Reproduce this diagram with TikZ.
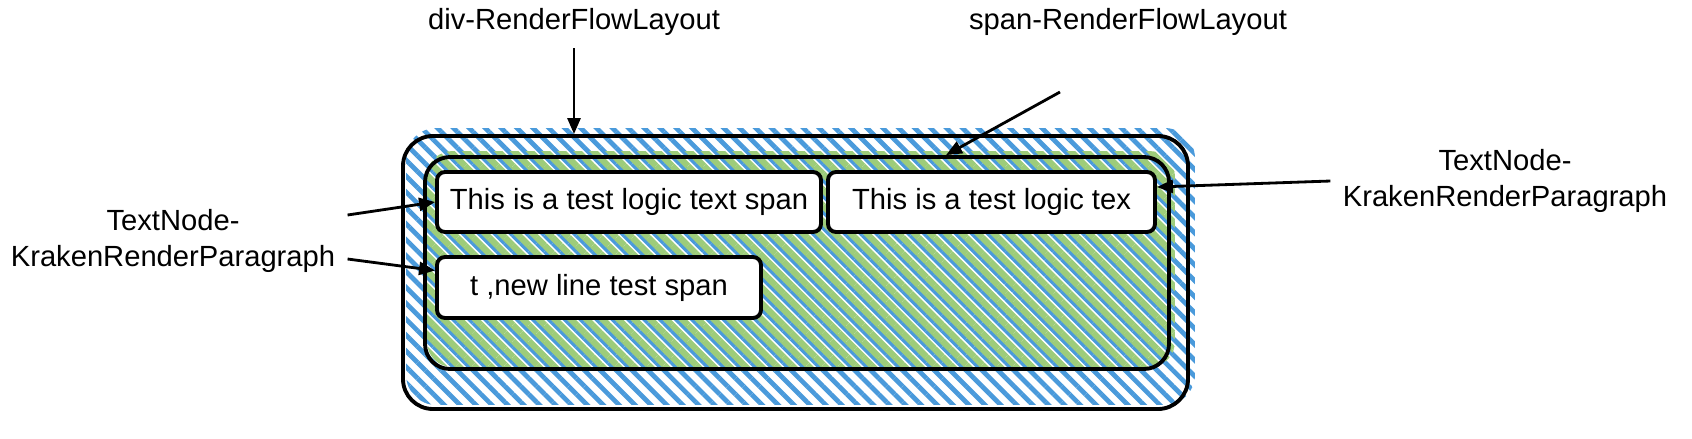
\documentclass[tikz,border=0pt]{standalone}
\usepackage{fontspec}
\setmainfont{Liberation Sans}
\usetikzlibrary{arrows.meta,patterns.meta,backgrounds}
\definecolor{hatchblue}{RGB}{74,154,219}
\definecolor{hatchgreen}{RGB}{157,204,122}

\begin{document}
\begin{tikzpicture}[
    font=\fontsize{8.3}{10}\selectfont,
    lay/.style={draw, line width=1.1pt},
    txt/.style={draw, line width=1.1pt, fill=white, rounded corners=0.08cm, minimum height=0.6cm, inner sep=0pt},
    lbl/.style={align=center},
    ar/.style={-{Triangle[length=0.16cm,width=0.13cm]}, line width=0.8pt},
    bluehatch/.style={pattern={Lines[angle=-45,distance=3.2pt,line width=1.35pt]}, pattern color=hatchblue},
    greenhatch/.style={pattern={Lines[angle=-45,distance=3.2pt,line width=1.8pt,yshift=1.6pt]}, pattern color=hatchgreen},
  ]
    \useasboundingbox (0,0) rectangle (16.92,-4.38);
    \node[lay, rounded corners=0.3cm, minimum width=7.85cm, minimum height=2.73cm] (outer) at (7.955,-2.725) {};
    \node[lay, rounded corners=0.25cm, minimum width=7.44cm, minimum height=2.12cm] (inner) at (7.97,-2.63) {};
    \node[txt, minimum width=3.84cm] (t1) at (6.29,-2.02) {This is a test logic text span};
    \node[txt, minimum width=3.27cm] (t2) at (9.915,-2.02) {This is a test logic tex};
    \node[txt, minimum width=3.24cm, minimum height=0.61cm] (t3) at (5.99,-2.875) {t ,new line test span};
    \node (divlbl) at (5.74,-0.22) {div-RenderFlowLayout};
    \node (spanlbl) at (11.28,-0.22) {span-RenderFlowLayout};
    \node[lbl] (leftlbl) at (1.73,-2.41) {TextNode-\\KrakenRenderParagraph};
    \node[lbl] (rightlbl) at (15.05,-1.81) {TextNode-\\KrakenRenderParagraph};
    \coordinate (spantail) at (10.60,-0.92);
    \begin{scope}[on background layer]
      \path[bluehatch, rounded corners=0.3cm] ([shift={(0.05,0.06)}]outer.south west) rectangle ([shift={(0.05,0.06)}]outer.north east);
      \path[greenhatch, rounded corners=0.25cm] ([shift={(0.04,0.04)}]inner.south west) rectangle ([shift={(0.04,0.04)}]inner.north east);
    \end{scope}
    \draw[ar] (divlbl.south) -- (divlbl.south |- outer.north);
    \draw[ar] (spantail) -- ([xshift=1.49cm]inner.north);
    \draw[ar] ([yshift=0.26cm]leftlbl.east) -- (t1.west);
    \draw[ar] ([yshift=-0.18cm]leftlbl.east) -- ([yshift=0.17cm]t3.west);
    \draw[ar] (rightlbl.west) -- ([yshift=0.15cm]t2.east);
  \end{tikzpicture}
\end{document}
